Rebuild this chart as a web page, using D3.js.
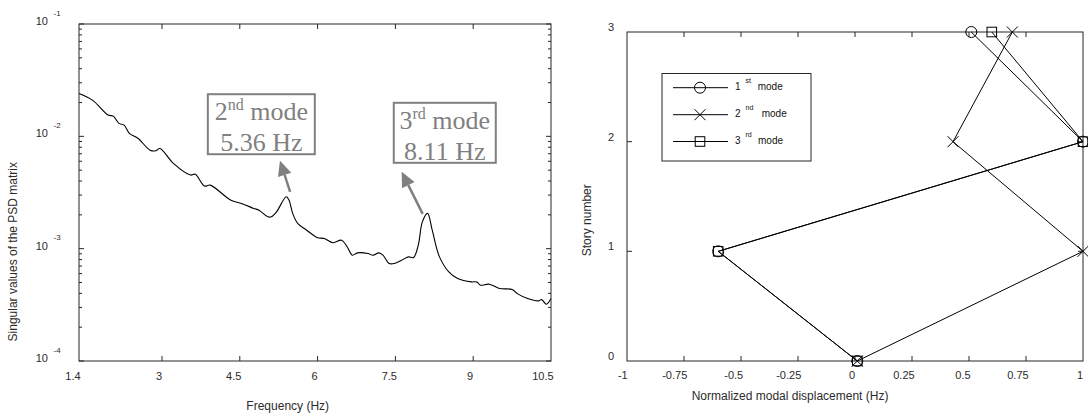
<!DOCTYPE html>
<html>
<head>
<meta charset="utf-8">
<script src="https://cdnjs.cloudflare.com/ajax/libs/d3/7.8.5/d3.min.js"></script>
<style>
  body { margin: 0; background: #fff; }
  svg { display: block; font-family: "Liberation Sans", Arial, sans-serif; }
  .tick-label { font-size: 11px; fill: #2b2b2b; }
  .axis-title { font-size: 12px; fill: #2b2b2b; }
  .legend-label { font-size: 10px; fill: #111; }
  .note { font-family: "Liberation Serif", "Times New Roman", serif; fill: #808080; font-size: 26px; }
</style>
</head>
<body>
<script>
// left panel: first singular value of the PSD matrix
const freq = [1.4, 1.66, 1.96, 2.06, 2.17, 2.27, 2.37, 2.54, 2.77, 2.88, 2.96, 3.22, 3.55, 3.64,
  3.82, 3.93, 4.33, 4.57, 4.77, 4.87, 5.04, 5.11, 5.21, 5.395, 5.45, 5.52, 5.62, 5.79, 5.99,
  6.13, 6.30, 6.46, 6.57, 6.67, 6.77, 6.97, 7.07, 7.18, 7.26, 7.38, 7.48, 7.62, 7.75, 7.85,
  7.94, 8.02, 8.12, 8.21, 8.35, 8.53, 8.70, 8.97, 9.07, 9.14, 9.31, 9.51, 9.75, 9.85, 10.05,
  10.26, 10.32, 10.41, 10.5];
const singular = [0.0241, 0.0210, 0.01545, 0.01514, 0.01303, 0.01259, 0.01062, 0.00957, 0.00753,
  0.00743, 0.00780, 0.00574, 0.00452, 0.00460, 0.00361, 0.00368, 0.00270, 0.00249, 0.00228,
  0.00220, 0.00192, 0.00192, 0.00213, 0.00290, 0.00270, 0.00206, 0.00167, 0.00146, 0.00126,
  0.00123, 0.00113, 0.00119, 0.00104, 0.000875, 0.000918, 0.000906, 0.000875, 0.000918,
  0.000875, 0.000738, 0.000738, 0.000789, 0.000845, 0.000834, 0.00107, 0.00173, 0.00206,
  0.00146, 0.000845, 0.000621, 0.000542, 0.000506, 0.000506, 0.000473, 0.000483, 0.000442,
  0.000433, 0.000398, 0.000360, 0.000343, 0.000352, 0.000320, 0.000360];
const freqTicks = [1.4, 3, 4.5, 6, 7.5, 9, 10.5];
const decades = [-4, -3, -2, -1];

// peak annotations: label, frequency text, box centre and arrow tail/tip in data units
const peakOrdinal = ['2', '3'];
const peakSuffix = ['nd', 'rd'];
const peakHz = ['5.36 Hz', '8.11 Hz'];
const peakBox = [[4.915, 0.01282], [8.452, 0.01075]];
const peakArrowTail = [[5.47, 0.00321], [8.026, 0.00204]];
const peakArrowTip = [[5.275, 0.00607], [7.62, 0.00484]];

// right panel: normalized mode shapes
const stories = [0, 1, 2, 3];
const mode1 = [0.01, -0.6, 1, 0.51];
const mode2 = [0.01, 1, 0.43, 0.69];
const mode3 = [0.01, -0.6, 1, 0.6];
const dispTicks = [-1, -0.75, -0.5, -0.25, 0, 0.25, 0.5, 0.75, 1];
const storyTicks = [0, 1, 2, 3];
const modeOrdinal = ['1', '2', '3'];
const modeSuffix = ['st', 'nd', 'rd'];
const modeSymbols = ['circle', 'cross', 'square'];

const svg = d3.select('body').append('svg')
  .attr('width', 1088)
  .attr('height', 418);

// text that is centred the way the reference renders it (slightly towards its start)
function offCentre(sel, extra) {
  sel.each(function() {
    const w = this.getComputedTextLength();
    d3.select(this).attr('dx', -0.33 * w - (extra || 0));
  });
}

function frame(g, x0, x1, y0, y1) {
  g.append('rect')
    .attr('x', x0).attr('y', y0)
    .attr('width', x1 - x0).attr('height', y1 - y0)
    .attr('fill', 'none')
    .attr('stroke', '#262626')
    .attr('stroke-width', 1);
}

// ---------- left panel ----------
const L = {left: 79, right: 551, top: 24, bottom: 361};
const x1 = d3.scaleLinear().domain([1.4, 10.5]).range([L.left, L.right]);
const y1 = d3.scaleLog().domain([1e-4, 1e-1]).range([L.bottom, L.top]);

const left = svg.append('g');

left.append('path')
  .datum(freq.map((f, i) => [f, singular[i]]))
  .attr('fill', 'none')
  .attr('stroke', '#000')
  .attr('stroke-width', 1.1)
  .attr('stroke-linejoin', 'round')
  .attr('d', d3.line().x(d => x1(d[0])).y(d => y1(d[1])).curve(d3.curveCatmullRom));

frame(left, L.left, L.right, L.top, L.bottom);

// x ticks top and bottom
freqTicks.slice(1, -1).forEach(t => {
  left.append('line').attr('x1', x1(t)).attr('x2', x1(t))
    .attr('y1', L.bottom).attr('y2', L.bottom - 5).attr('stroke', '#262626');
  left.append('line').attr('x1', x1(t)).attr('x2', x1(t))
    .attr('y1', L.top).attr('y2', L.top + 5).attr('stroke', '#262626');
});
left.selectAll('.xlab')
  .data(freqTicks)
  .enter()
  .append('text')
  .attr('class', 'tick-label')
  .attr('x', d => x1(d))
  .attr('y', 376)
  .attr('dy', '0.35em')
  .attr('text-anchor', 'middle')
  .text(d => d)
  .call(offCentre, 1);

// log y ticks, major and minor, both sides
const minor = [];
decades.slice(0, -1).forEach(k => {
  for (let m = 2; m <= 9; m++) minor.push(m * Math.pow(10, k));
});
minor.forEach(v => {
  left.append('line').attr('x1', L.left).attr('x2', L.left + 3)
    .attr('y1', y1(v)).attr('y2', y1(v)).attr('stroke', '#262626');
  left.append('line').attr('x1', L.right).attr('x2', L.right - 3)
    .attr('y1', y1(v)).attr('y2', y1(v)).attr('stroke', '#262626');
});
decades.forEach(k => {
  const v = Math.pow(10, k);
  left.append('line').attr('x1', L.left).attr('x2', L.left + 5)
    .attr('y1', y1(v)).attr('y2', y1(v)).attr('stroke', '#262626');
  left.append('line').attr('x1', L.right).attr('x2', L.right - 5)
    .attr('y1', y1(v)).attr('y2', y1(v)).attr('stroke', '#262626');
  left.append('text')
    .attr('class', 'tick-label')
    .attr('x', 48)
    .attr('y', y1(v) - 3)
    .attr('dy', '0.35em')
    .attr('text-anchor', 'end')
    .text('10');
  left.append('text')
    .attr('class', 'tick-label')
    .style('font-size', '8px')
    .attr('x', 53.5)
    .attr('y', y1(v) - 11)
    .attr('dy', '0.35em')
    .text(k);
});

left.append('text')
  .attr('class', 'axis-title')
  .attr('x', (L.left + L.right) / 2)
  .attr('y', 406)
  .attr('dy', '0.35em')
  .attr('text-anchor', 'middle')
  .text('Frequency (Hz)')
  .call(offCentre);

left.append('text')
  .attr('class', 'axis-title')
  .attr('transform', `translate(17, ${(L.top + L.bottom) / 2}) rotate(-90)`)
  .attr('text-anchor', 'middle')
  .text('Singular values of the PSD matrix')
  .call(offCentre);

// annotations
peakHz.forEach((hz, i) => {
  const cx = x1(peakBox[i][0]);
  const cy = y1(peakBox[i][1]);
  const bw = [107, 102][i];
  const bh = 60;
  left.append('rect')
    .attr('x', cx - bw / 2).attr('y', cy - bh / 2)
    .attr('width', bw).attr('height', bh)
    .attr('fill', '#fff')
    .attr('stroke', '#808080')
    .attr('stroke-width', 2);
  const t1 = left.append('text')
    .attr('class', 'note')
    .attr('x', cx)
    .attr('y', cy - 4)
    .attr('text-anchor', 'middle');
  t1.append('tspan').text(peakOrdinal[i]);
  t1.append('tspan').attr('dy', -10).style('font-size', '16px').text(peakSuffix[i]);
  t1.append('tspan').attr('dy', 10).text(' mode');
  left.append('text')
    .attr('class', 'note')
    .attr('x', cx)
    .attr('y', cy + 27)
    .attr('text-anchor', 'middle')
    .text(hz);

  const ax = x1(peakArrowTail[i][0]), ay = y1(peakArrowTail[i][1]);
  const bx = x1(peakArrowTip[i][0]), by = y1(peakArrowTip[i][1]);
  const ang = Math.atan2(by - ay, bx - ax);
  const hl = 15, hw = 7;
  const baseX = bx - hl * Math.cos(ang), baseY = by - hl * Math.sin(ang);
  left.append('line')
    .attr('x1', ax).attr('y1', ay)
    .attr('x2', baseX).attr('y2', baseY)
    .attr('stroke', '#808080')
    .attr('stroke-width', 2.5);
  left.append('path')
    .attr('d', `M${bx},${by}L${baseX + hw * Math.sin(ang)},${baseY - hw * Math.cos(ang)}` +
      `L${baseX - hw * Math.sin(ang)},${baseY + hw * Math.cos(ang)}Z`)
    .attr('fill', '#808080');
});

// ---------- right panel ----------
const R = {left: 627, right: 1083, top: 32, bottom: 361};
const x2 = d3.scaleLinear().domain([-1, 1]).range([R.left, R.right]);
const y2 = d3.scaleLinear().domain([0, 3]).range([R.bottom, R.top]);

const right = svg.append('g');
frame(right, R.left, R.right, R.top, R.bottom);

dispTicks.slice(1, -1).forEach(t => {
  right.append('line').attr('x1', x2(t)).attr('x2', x2(t))
    .attr('y1', R.bottom).attr('y2', R.bottom - 5).attr('stroke', '#262626');
  right.append('line').attr('x1', x2(t)).attr('x2', x2(t))
    .attr('y1', R.top).attr('y2', R.top + 5).attr('stroke', '#262626');
});
storyTicks.slice(1, -1).forEach(t => {
  right.append('line').attr('x1', R.left).attr('x2', R.left + 5)
    .attr('y1', y2(t)).attr('y2', y2(t)).attr('stroke', '#262626');
  right.append('line').attr('x1', R.right).attr('x2', R.right - 5)
    .attr('y1', y2(t)).attr('y2', y2(t)).attr('stroke', '#262626');
});

right.selectAll('.xlab')
  .data(dispTicks)
  .enter()
  .append('text')
  .attr('class', 'tick-label')
  .attr('x', d => x2(d))
  .attr('y', 375)
  .attr('dy', '0.35em')
  .attr('text-anchor', 'middle')
  .text(d => d)
  .call(offCentre, 1);

right.selectAll('.ylab')
  .data(storyTicks)
  .enter()
  .append('text')
  .attr('class', 'tick-label')
  .attr('x', 614)
  .attr('y', d => y2(d) - 5)
  .attr('dy', '0.35em')
  .attr('text-anchor', 'end')
  .text(d => d);

right.append('text')
  .attr('class', 'axis-title')
  .attr('x', (R.left + R.right) / 2)
  .attr('y', 396)
  .attr('dy', '0.35em')
  .attr('text-anchor', 'middle')
  .text('Normalized modal displacement (Hz)')
  .call(offCentre);

right.append('text')
  .attr('class', 'axis-title')
  .attr('transform', `translate(591, ${(R.top + R.bottom) / 2}) rotate(-90)`)
  .attr('text-anchor', 'middle')
  .text('Story number')
  .call(offCentre);

function marker(g, kind, x, y) {
  if (kind === 'circle') {
    g.append('circle').attr('cx', x).attr('cy', y).attr('r', 5.5)
      .attr('fill', 'none').attr('stroke', '#000').attr('stroke-width', 1);
  } else if (kind === 'square') {
    g.append('rect').attr('x', x - 4.8).attr('y', y - 4.8)
      .attr('width', 9.6).attr('height', 9.6)
      .attr('fill', 'none').attr('stroke', '#000').attr('stroke-width', 1);
  } else {
    g.append('path').attr('d', `M${x - 5.5},${y - 5.5}L${x + 5.5},${y + 5.5}M${x - 5.5},${y + 5.5}L${x + 5.5},${y - 5.5}`)
      .attr('fill', 'none').attr('stroke', '#000').attr('stroke-width', 1);
  }
}

const modes = [mode1, mode2, mode3];
const shapeLine = d3.line().x(d => x2(d[0])).y(d => y2(d[1]));
modes.forEach((m, i) => {
  const pts = m.map((v, j) => [v, stories[j]]);
  right.append('path')
    .datum(pts)
    .attr('fill', 'none')
    .attr('stroke', '#000')
    .attr('stroke-width', 1)
    .attr('d', shapeLine);
  pts.forEach(p => marker(right, modeSymbols[i], x2(p[0]), y2(p[1])));
});

// legend
const lg = right.append('g');
lg.append('rect')
  .attr('x', 662).attr('y', 73.5)
  .attr('width', 149).attr('height', 87.5)
  .attr('fill', '#fff')
  .attr('stroke', '#262626')
  .attr('stroke-width', 1);
const rowY = [87.7, 114.7, 141.5];
modeOrdinal.forEach((o, i) => {
  const yy = rowY[i];
  lg.append('line').attr('x1', 673).attr('x2', 728)
    .attr('y1', yy).attr('y2', yy).attr('stroke', '#000');
  marker(lg, modeSymbols[i], 700, yy);
  lg.append('text').attr('class', 'legend-label')
    .attr('x', 735).attr('y', yy - 1).attr('dy', '0.35em').text(o);
  lg.append('text').attr('class', 'legend-label').style('font-size', '7px')
    .attr('x', 745.5).attr('y', yy - 7).attr('dy', '0.35em').text(modeSuffix[i]);
  lg.append('text').attr('class', 'legend-label')
    .attr('x', [757.7, 761.7, 758][i]).attr('y', yy - 1).attr('dy', '0.35em').text('mode');
});
</script>
</body>
</html>
